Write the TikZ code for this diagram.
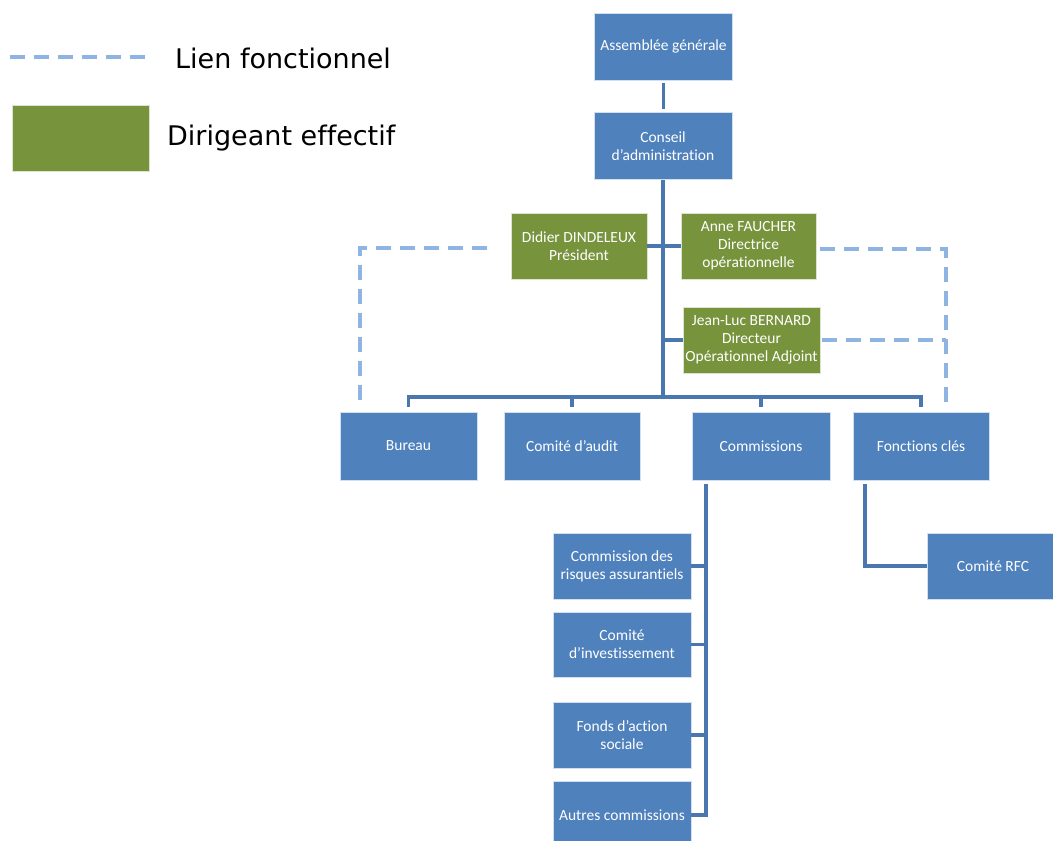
\documentclass[tikz,border=0pt]{standalone}
\usepackage{fontspec}
\newfontfamily\boxfont[Ligatures=NoCommon]{Carlito}
\newfontfamily\legfont[Ligatures=NoCommon]{DejaVu Sans}
\definecolor{boxblue}{HTML}{4F81BD}
\definecolor{boxgreen}{HTML}{77933C}
\definecolor{lineblue}{HTML}{4A77B0}
\definecolor{dashblue}{HTML}{8EB4E3}
\begin{document}
\begin{tikzpicture}[x=1pt,y=-1pt,
  box/.style={draw=white!75!boxblue, line width=0.8pt, fill=boxblue, text=white, align=center,
    inner sep=0pt, minimum width=138pt, minimum height=67pt,
    font=\boxfont\fontsize{15.5}{18}\selectfont},
  gbox/.style={box, fill=boxgreen, draw=white!75!boxgreen, minimum width=136pt, minimum height=66pt},
  conn/.style={draw=lineblue, line width=3.3pt},
  flink/.style={draw=dashblue, line width=3.3pt, dash pattern=on 15pt off 9pt},
  legtext/.style={anchor=west, inner sep=0pt, font=\legfont\fontsize{27}{30}\selectfont, text=black}]
\useasboundingbox (0,0) rectangle (1053,841);
\begin{scope}
\clip (0,0) rectangle (1053,841);
% legend
\coordinate (l1) at (10,57);
\coordinate (l2) at (145,57);
\draw[flink] (l1) -- (l2);
\node[legtext] (lt1) at (175,58) {Lien fonctionnel};
\node[gbox, minimum width=137pt, minimum height=66pt] (lg) at (80.5,138) {};
\node[legtext] (lt2) at (167,138) {Dirigeant effectif};

% boxes
\node[box] (ag) at (663.5,46.5) {Assemblée générale};
\node[box] (ca) at (663,146) {Conseil\\d’administration};
\node[gbox] (didier) at (579,246) {Didier DINDELEUX\\Président};
\node[gbox, minimum width=135pt] (anne) at (748.5,246) {Anne FAUCHER\\Directrice\\opérationnelle};
\node[gbox, minimum width=137pt] (jl) at (751.5,340) {Jean-Luc BERNARD\\Directeur\\Opérationnel Adjoint};
\node[box, minimum width=137pt, minimum height=68pt] (bureau) at (408.5,446) {Bureau};
\node[box, minimum width=136pt, minimum height=68pt] (audit) at (572,446) {Comité d’audit};
\node[box, minimum height=68pt] (comm) at (761,446) {Commissions};
\node[box, minimum width=136pt, minimum height=68pt] (fc) at (921,446) {Fonctions clés};
\node[box, minimum width=132pt, minimum height=66pt] (rfc) at (993,566) {Comité RFC};
\node[box, minimum height=66pt] (c1) at (622,566) {Commission des\\risques assurantiels};
\node[box, minimum height=65pt] (c2) at (622,644.5) {Comité\\d’investissement};
\node[box, minimum height=66pt] (c3) at (622,735) {Fonds d’action\\sociale};
\node[box, minimum height=68pt] (c4) at (622,815) {Autres commissions};

% solid connectors
\coordinate (busy) at (0,397);
\draw[conn, shorten <=3pt, shorten >=3pt] (ag.south) -- (ag.south |- ca.north);
\draw[conn] (ca.south) -- (ca.south |- busy);
\draw[conn, shorten <=5pt] (bureau.north) -- (bureau.north |- busy) -- (fc.north |- busy) -- ([yshift=5pt]fc.north);
\draw[conn, shorten <=5pt] (audit.north) -- (audit.north |- busy);
\draw[conn, shorten <=5pt] (comm.north) -- (comm.north |- busy);
\draw[conn] (didier.east) -- (ca.south |- didier.east);
\draw[conn] (anne.west) -- (ca.south |- anne.west);
\draw[conn] (jl.west) -- (ca.south |- jl.west);
% commissions sub-tree
\coordinate (cx) at (706,0);
\draw[conn] ([yshift=-4pt]cx |- comm.south) -- (cx |- c4.east) -- (c4.east);
\draw[conn] (c1.east) -- (cx |- c1.east);
\draw[conn] (c2.east) -- (cx |- c2.east);
\draw[conn] (c3.east) -- (cx |- c3.east);
% fonctions cles -> comite RFC
\coordinate (fx) at (865,0);
\draw[conn] ([yshift=-4pt]fx |- fc.south) -- (fx |- rfc.west) -- (rfc.west);

% functional links (dashed)
\coordinate (dl) at (360,408);
\coordinate (dr) at (946,407);
\coordinate (dr2) at (946,340);
\draw[flink, shorten <=24pt] ([yshift=-2pt]didier.west) -| (dl);
\draw[flink, shorten <=4pt] ([yshift=-3pt]anne.east) -| (dr);
\draw[flink, shorten <=2pt] (jl.east) -- (dr2);
\end{scope}
\end{tikzpicture}
\end{document}
